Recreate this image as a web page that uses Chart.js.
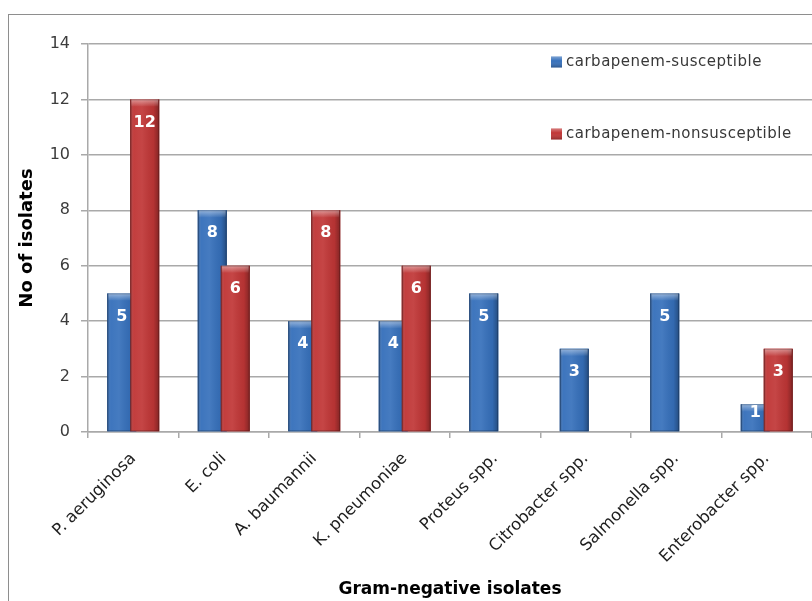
<!DOCTYPE html>
<html>
<head>
<meta charset="utf-8">
<title>Carbapenem susceptibility of Gram-negative isolates</title>
<script src="https://cdn.jsdelivr.net/npm/chart.js@4/dist/chart.umd.min.js"></script>
<style>
  html, body { margin: 0; padding: 0; background: #fff; overflow: hidden; }
  #wrap { position: relative; width: 812px; height: 601px; }
  #frame { position: absolute; left: 8px; top: 14px; width: 900px; height: 700px;
           border-left: 1px solid #8e8e8e; border-top: 1px solid #8e8e8e; }
  canvas { position: absolute; left: 0; top: 0; }
</style>
</head>
<body>
<div id="wrap">
  <div id="frame"></div>
  <canvas id="chart" width="812" height="601"></canvas>
</div>
<script>
// Isolate counts per organism
const categories = ['P. aeruginosa', 'E. coli', 'A. baumannii', 'K. pneumoniae',
                    'Proteus spp.', 'Citrobacter spp.', 'Salmonella spp.', 'Enterobacter spp.'];
const susceptible    = [5, 8, 4, 4, 5, 3, 5, 1];
const nonsusceptible = [12, 6, 8, 6, 0, 0, 0, 3];
const yTicks = [0, 2, 4, 6, 8, 10, 12, 14];
const seriesNames = ['carbapenem-susceptible', 'carbapenem-nonsusceptible'];

const seriesColors = ['#3670bb', '#c03636'];
const gridColor = '#a9a9a9';

// Cylinder-like shading on every bar; each series is painted in order so the
// second series sits over the first where the bars overlap.
const barShading = {
  id: 'barShading',
  afterDatasetsDraw(chart) {
    const ctx = chart.ctx, area = chart.chartArea;
    ctx.save();
    chart.data.datasets.forEach((ds, di) => {
      const meta = chart.getDatasetMeta(di);
      meta.data.forEach((el) => {
        const { x, y, base, width } = el.getProps(['x', 'y', 'base', 'width'], true);
        const h = base - y;
        if (h <= 0.5) return;
        el.draw(ctx, area);
        const l = x - width / 2;
        const g = ctx.createLinearGradient(l, 0, l + width, 0);
        g.addColorStop(0, 'rgba(0,0,0,0.30)');
        g.addColorStop(0.12, 'rgba(255,255,255,0.04)');
        g.addColorStop(0.4, 'rgba(255,255,255,0.08)');
        g.addColorStop(0.8, 'rgba(0,0,0,0.06)');
        g.addColorStop(1, 'rgba(0,0,0,0.32)');
        ctx.fillStyle = g;
        ctx.fillRect(l, y, width, h);
        const capH = Math.min(7, h);
        const cg = ctx.createLinearGradient(0, y, 0, y + capH);
        cg.addColorStop(0, 'rgba(255,255,255,0.45)');
        cg.addColorStop(1, 'rgba(255,255,255,0.03)');
        ctx.fillStyle = cg;
        ctx.fillRect(l + 1, y, width - 2, capH);
        ctx.strokeStyle = 'rgba(0,0,0,0.22)';
        ctx.lineWidth = 1;
        ctx.strokeRect(l + 0.5, y + 0.5, width - 1, h - 1);
      });
    });
    ctx.restore();
  }
};

// White value labels just inside the top of each bar
const valueLabels = {
  id: 'valueLabels',
  afterDatasetsDraw(chart) {
    const ctx = chart.ctx;
    ctx.save();
    ctx.font = 'bold 16px "DejaVu Sans"';
    ctx.fillStyle = '#ffffff';
    ctx.textAlign = 'center';
    ctx.textBaseline = 'middle';
    chart.data.datasets.forEach((ds, di) => {
      const meta = chart.getDatasetMeta(di);
      meta.data.forEach((el, i) => {
        const v = ds.data[i];
        if (!v) return;
        const { x, y, base } = el.getProps(['x', 'y', 'base'], true);
        const h = base - y;
        ctx.fillText(String(v), x, y + Math.min(23, h * 0.3));
      });
    });
    ctx.restore();
  }
};

// Legend: colour key squares with series names, stacked in the upper right
const keyLegend = {
  id: 'keyLegend',
  afterDraw(chart) {
    const ctx = chart.ctx;
    const rows = [62, 134];
    ctx.save();
    ctx.font = '15px "DejaVu Sans"';
    if ('letterSpacing' in ctx) ctx.letterSpacing = '0.5px';
    ctx.textBaseline = 'middle';
    ctx.textAlign = 'left';
    chart.data.datasets.forEach((ds, di) => {
      const cy = rows[di];
      const sx = 551, s = 11;
      ctx.fillStyle = ds.backgroundColor;
      ctx.fillRect(sx, cy - s / 2, s, s);
      const g = ctx.createLinearGradient(0, cy - s / 2, 0, cy + s / 2);
      g.addColorStop(0, 'rgba(255,255,255,0.35)');
      g.addColorStop(0.4, 'rgba(255,255,255,0.0)');
      g.addColorStop(1, 'rgba(0,0,0,0.25)');
      ctx.fillStyle = g;
      ctx.fillRect(sx, cy - s / 2, s, s);
      ctx.fillStyle = '#383838';
      ctx.fillText(ds.label, sx + 15, cy);
    });
    ctx.restore();
  }
};

new Chart(document.getElementById('chart'), {
  type: 'bar',
  data: {
    labels: categories,
    datasets: [
      { label: seriesNames[0], data: susceptible, backgroundColor: seriesColors[0], borderWidth: 0,
        categoryPercentage: 0.508, barPercentage: 1.26 },
      { label: seriesNames[1], data: nonsusceptible, backgroundColor: seriesColors[1], borderWidth: 0,
        categoryPercentage: 0.508, barPercentage: 1.26 }
    ]
  },
  options: {
    responsive: false,
    animation: false,
    events: [],
    layout: { padding: { left: 0, top: 44, right: 0, bottom: 0 } },
    plugins: { legend: { display: false }, tooltip: { enabled: false }, title: { display: false } },
    scales: {
      x: {
        grid: { display: true, drawOnChartArea: false, drawTicks: true, tickLength: 6,
                color: gridColor, lineWidth: 1.5, offset: true },
        border: { display: true, color: gridColor, width: 1.5 },
        ticks: { color: '#1e1e1e', font: { family: 'DejaVu Sans', size: 16.5 },
                 minRotation: 45, maxRotation: 45, autoSkip: false, padding: 11 },
        title: { display: true, text: 'Gram-negative isolates', color: '#000',
                 font: { family: 'DejaVu Sans', size: 17, weight: 'bold' }, padding: { top: 0, bottom: 1 } },
        afterFit(scale) { scale.height = 601 - 432; }
      },
      y: {
        min: 0, max: 14,
        afterBuildTicks(scale) { scale.ticks = yTicks.map(v => ({ value: v })); },
        grid: { color: gridColor, lineWidth: 1.5, tickLength: 7, drawTicks: true },
        border: { display: true, color: gridColor, width: 1.5 },
        ticks: { color: '#3c3c3c', font: { family: 'DejaVu Sans', size: 16 }, padding: 11 },
        title: { display: true, text: 'No of isolates', color: '#000',
                 font: { family: 'DejaVu Sans', size: 18, weight: 'bold' }, padding: { top: 17, bottom: 0 } },
        afterFit(scale) { scale.width = 88; }
      }
    }
  },
  plugins: [barShading, valueLabels, keyLegend]
});
</script>
</body>
</html>
